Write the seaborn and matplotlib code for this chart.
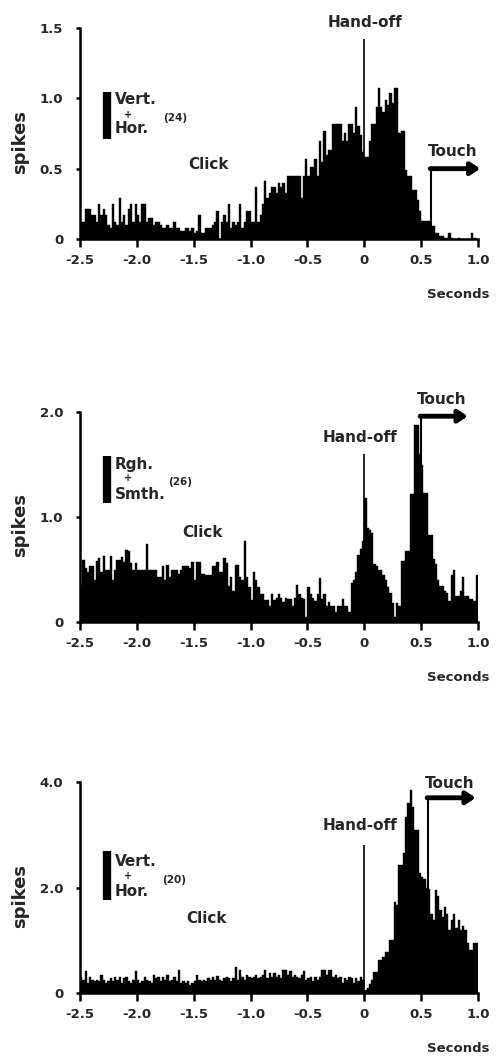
"""
Peri-event spike histograms (three cells), aligned on hand-off.
Rebuilt with seaborn histplot using the per-bin means as weights.
"""

import numpy as np
import pandas as pd
import matplotlib

matplotlib.use("Agg")
import matplotlib.pyplot as plt
import seaborn as sns

# --- DATA: mean spikes per 20 ms bin, -2.5 s .. 1.0 s ---
BIN_START = -2.5
BIN_WIDTH = 0.02
N_BINS = 175

SPIKES_VERT_HOR_24 = [
    0.12, 0.12, 0.21, 0.21, 0.21, 0.17, 0.17, 0.12, 0.25, 0.17,
    0.21, 0.17, 0.10, 0.08, 0.25, 0.12, 0.10, 0.29, 0.12, 0.17,
    0.10, 0.21, 0.25, 0.12, 0.25, 0.17, 0.12, 0.25, 0.25, 0.12,
    0.15, 0.15, 0.10, 0.12, 0.12, 0.10, 0.08, 0.08, 0.10, 0.08,
    0.08, 0.12, 0.08, 0.08, 0.06, 0.06, 0.08, 0.08, 0.06, 0.08,
    0.04, 0.06, 0.17, 0.04, 0.04, 0.08, 0.08, 0.08, 0.10, 0.12,
    0.20, 0.00, 0.12, 0.17, 0.12, 0.25, 0.08, 0.12, 0.10, 0.12,
    0.25, 0.08, 0.12, 0.20, 0.20, 0.12, 0.12, 0.37, 0.12, 0.17,
    0.25, 0.41, 0.29, 0.33, 0.37, 0.37, 0.33, 0.40, 0.37, 0.40,
    0.33, 0.45, 0.45, 0.45, 0.45, 0.45, 0.45, 0.29, 0.45, 0.57,
    0.45, 0.51, 0.51, 0.57, 0.45, 0.70, 0.55, 0.77, 0.60, 0.63,
    0.63, 0.82, 0.82, 0.82, 0.82, 0.70, 0.75, 0.70, 0.82, 0.82,
    0.75, 0.94, 0.80, 0.74, 0.62, 0.58, 0.58, 0.70, 0.82, 0.82,
    0.94, 1.07, 0.94, 0.90, 0.99, 0.95, 1.04, 0.97, 1.07, 1.07,
    0.75, 0.77, 0.77, 0.49, 0.45, 0.45, 0.35, 0.35, 0.28, 0.20,
    0.13, 0.13, 0.13, 0.13, 0.09, 0.09, 0.04, 0.04, 0.02, 0.02,
    0.01, 0.01, 0.04, 0.01, 0.00, 0.00, 0.01, 0.00, 0.00, 0.00,
    0.00, 0.00, 0.04, 0.01, 0.00,
]

SPIKES_RGH_SMTH_26 = [
    0.35, 0.59, 0.51, 0.48, 0.53, 0.53, 0.40, 0.58, 0.61, 0.48,
    0.63, 0.50, 0.50, 0.63, 0.40, 0.50, 0.59, 0.59, 0.62, 0.57,
    0.69, 0.68, 0.56, 0.50, 0.56, 0.50, 0.50, 0.50, 0.50, 0.74,
    0.50, 0.50, 0.50, 0.50, 0.43, 0.43, 0.53, 0.40, 0.54, 0.43,
    0.50, 0.50, 0.50, 0.46, 0.50, 0.53, 0.53, 0.53, 0.51, 0.57,
    0.40, 0.57, 0.57, 0.46, 0.46, 0.45, 0.45, 0.45, 0.53, 0.53,
    0.57, 0.48, 0.48, 0.61, 0.56, 0.34, 0.43, 0.30, 0.54, 0.54,
    0.43, 0.40, 0.77, 0.43, 0.33, 0.21, 0.48, 0.40, 0.33, 0.27,
    0.27, 0.21, 0.21, 0.15, 0.27, 0.21, 0.23, 0.27, 0.23, 0.19,
    0.23, 0.22, 0.22, 0.15, 0.23, 0.35, 0.27, 0.23, 0.22, 0.05,
    0.33, 0.27, 0.23, 0.20, 0.27, 0.42, 0.22, 0.27, 0.15, 0.19,
    0.15, 0.15, 0.10, 0.15, 0.15, 0.22, 0.15, 0.15, 0.10, 0.37,
    0.40, 0.48, 0.64, 0.70, 0.77, 1.18, 0.90, 0.88, 0.85, 0.55,
    0.53, 0.50, 0.50, 0.45, 0.40, 0.33, 0.28, 0.18, 0.05, 0.18,
    0.15, 0.58, 0.58, 0.68, 0.68, 1.22, 1.22, 1.88, 1.88, 1.60,
    1.50, 1.23, 1.23, 0.83, 0.83, 0.60, 0.55, 0.40, 0.34, 0.34,
    0.30, 0.28, 0.20, 0.45, 0.50, 0.25, 0.25, 0.30, 0.43, 0.25,
    0.25, 0.22, 0.22, 0.20, 0.45,
]

SPIKES_VERT_HOR_20 = [
    0.31, 0.25, 0.41, 0.19, 0.31, 0.25, 0.22, 0.25, 0.22, 0.35,
    0.25, 0.19, 0.22, 0.28, 0.22, 0.31, 0.25, 0.31, 0.19, 0.28,
    0.31, 0.22, 0.19, 0.25, 0.41, 0.25, 0.19, 0.22, 0.31, 0.25,
    0.22, 0.19, 0.35, 0.28, 0.31, 0.22, 0.31, 0.25, 0.35, 0.22,
    0.25, 0.31, 0.22, 0.44, 0.19, 0.22, 0.19, 0.22, 0.16, 0.19,
    0.22, 0.35, 0.25, 0.22, 0.25, 0.22, 0.28, 0.25, 0.31, 0.25,
    0.33, 0.25, 0.22, 0.28, 0.31, 0.28, 0.22, 0.28, 0.49, 0.25,
    0.44, 0.31, 0.25, 0.35, 0.31, 0.28, 0.31, 0.35, 0.28, 0.31,
    0.35, 0.43, 0.28, 0.38, 0.31, 0.38, 0.31, 0.35, 0.28, 0.43,
    0.43, 0.35, 0.41, 0.31, 0.35, 0.31, 0.28, 0.35, 0.41, 0.25,
    0.28, 0.31, 0.22, 0.31, 0.25, 0.31, 0.43, 0.43, 0.35, 0.43,
    0.43, 0.31, 0.35, 0.28, 0.31, 0.19, 0.28, 0.25, 0.31, 0.28,
    0.19, 0.28, 0.22, 0.31, 0.25, 0.06, 0.10, 0.18, 0.25, 0.40,
    0.40, 0.63, 0.63, 0.69, 0.78, 0.78, 1.00, 1.00, 1.73, 1.67,
    2.43, 2.43, 2.65, 3.34, 3.60, 3.84, 3.53, 3.09, 3.09, 2.27,
    2.20, 2.17, 2.00, 1.98, 1.50, 1.39, 1.95, 1.83, 1.57, 1.45,
    1.64, 1.50, 1.20, 1.39, 1.50, 1.23, 1.38, 1.20, 1.27, 1.20,
    0.94, 0.81, 0.82, 0.94, 0.94,
]

PANEL_DATA = [SPIKES_VERT_HOR_24, SPIKES_RGH_SMTH_26, SPIKES_VERT_HOR_20]
COND_TOP = ["Vert.", "Rgh.", "Vert."]
COND_BOTTOM = ["Hor.", "Smth.", "Hor."]
N_CELLS = ["(24)", "(26)", "(20)"]

X_TICKS = [-2.5, -2.0, -1.5, -1.0, -0.5, 0, 0.5, 1.0]
X_TICK_LABELS = ["-2.5", "-2.0", "-1.5", "-1.0", "-0.5", "0", "0.5", "1.0"]
Y_MAX = [1.5, 2.0, 4.0]
Y_TICKS = [[0, 0.5, 1.0, 1.5], [0, 1.0, 2.0], [0, 2.0, 4.0]]
Y_TICK_LABELS = [["0", "0.5", "1.0", "1.5"], ["0", "1.0", "2.0"], ["0", "2.0", "4.0"]]

# event markers (seconds / spikes)
HANDOFF_TOP = [1.42, 1.60, 2.80]
TOUCH_T = [0.585, 0.496, 0.558]
TOUCH_Y = [0.50, 1.96, 3.70]
TOUCH_END = [1.02, 0.91, 0.98]

# --- LAYOUT (figure fractions / data positions of labels) ---
AX_RECTS = [
    [0.160, 0.7739, 0.796, 0.1996],
    [0.160, 0.4115, 0.796, 0.1987],
    [0.160, 0.0605, 0.796, 0.1997],
]
HANDOFF_TXT = [(0.01, 1.54), (-0.04, 1.76), (-0.04, 3.17)]
CLICK_TXT = [(-1.37, 0.53), (-1.42, 0.85), (-1.39, 1.42)]
TOUCH_TXT = [(0.78, 0.62), (0.68, 2.12), (0.75, 3.98)]
# legend bar (axes fraction): x, y bottom, y top
LEG_BAR = [(0.068, 0.474, 0.697), (0.068, 0.567, 0.790), (0.068, 0.441, 0.673)]
LEG_TOP_Y = [0.659, 0.748, 0.621]
LEG_PLUS_Y = [0.588, 0.686, 0.555]
LEG_BOT_Y = [0.526, 0.605, 0.479]
LEG_N_POS = [(0.208, 0.573), (0.222, 0.667), (0.206, 0.536)]

sns.set_theme(style="ticks")
plt.rcParams["font.family"] = ["DejaVu Sans"]
plt.rcParams["font.weight"] = "bold"

LABEL_FS = 11
TICK_FS = 9.5


def draw_panel(ax, i):
    edges = BIN_START + BIN_WIDTH * np.arange(N_BINS + 1)
    df = pd.DataFrame({"t": edges[:-1] + BIN_WIDTH / 2, "spikes": PANEL_DATA[i]})

    # int bins + binrange (array bins trips a seaborn check when weights are used)
    sns.histplot(
        data=df,
        x="t",
        weights="spikes",
        bins=N_BINS,
        binrange=(edges[0], edges[-1]),
        ax=ax,
        color="black",
        alpha=1,
        edgecolor="black",
        linewidth=0.3,
    )

    ax.set_xlim(-2.5, 1.0)
    ax.set_ylim(0, Y_MAX[i])
    sns.despine(ax=ax)
    for side in ["left", "bottom"]:
        ax.spines[side].set_linewidth(1.8)
        ax.spines[side].set_color("black")

    ax.set_xticks(X_TICKS)
    ax.set_xticklabels(X_TICK_LABELS, fontsize=TICK_FS, fontweight="bold")
    ax.set_yticks(Y_TICKS[i])
    ax.set_yticklabels(Y_TICK_LABELS[i], fontsize=TICK_FS, fontweight="bold")
    ax.tick_params(axis="x", length=6, width=1.8, pad=5, color="black")
    ax.tick_params(axis="y", length=3, width=1.8, pad=9, color="black")

    ax.set_ylabel("spikes", fontsize=13, fontweight="bold", va="center")
    ax.yaxis.set_label_coords(-0.15, 0.46)
    ax.set_xlabel("Seconds", fontsize=9.5, fontweight="bold", ha="right", va="center")
    ax.xaxis.set_label_coords(1.03, -0.265)

    # hand-off marker
    ax.vlines(0, 0, HANDOFF_TOP[i], color="black", lw=1.2, clip_on=False)
    ax.text(*HANDOFF_TXT[i], "Hand-off", ha="center", va="center",
            fontsize=LABEL_FS, fontweight="bold", clip_on=False)

    # touch marker + arrow
    ax.vlines(TOUCH_T[i], 0, TOUCH_Y[i], color="black", lw=1.5, clip_on=False)
    ax.annotate(
        "",
        xy=(TOUCH_END[i], TOUCH_Y[i]),
        xytext=(TOUCH_T[i] - 0.005, TOUCH_Y[i]),
        arrowprops=dict(arrowstyle="-|>,head_length=0.45,head_width=0.3",
                        lw=3.5, color="black", mutation_scale=12,
                        shrinkA=0, shrinkB=0),
        annotation_clip=False,
    )
    ax.text(*TOUCH_TXT[i], "Touch", ha="center", va="center",
            fontsize=LABEL_FS, fontweight="bold", clip_on=False)

    ax.text(*CLICK_TXT[i], "Click", ha="center", va="center",
            fontsize=LABEL_FS, fontweight="bold")

    # condition legend
    bx, b0, b1 = LEG_BAR[i]
    ax.plot([bx, bx], [b0, b1], transform=ax.transAxes, color="black",
            lw=6, solid_capstyle="butt")
    ax.text(0.088, LEG_TOP_Y[i], COND_TOP[i], transform=ax.transAxes,
            ha="left", va="center", fontsize=LABEL_FS, fontweight="bold")
    ax.text(0.12, LEG_PLUS_Y[i], "+", transform=ax.transAxes,
            ha="center", va="center", fontsize=7, fontweight="bold")
    ax.text(0.088, LEG_BOT_Y[i], COND_BOTTOM[i], transform=ax.transAxes,
            ha="left", va="center", fontsize=LABEL_FS, fontweight="bold")
    ax.text(*LEG_N_POS[i], N_CELLS[i], transform=ax.transAxes,
            ha="left", va="center", fontsize=7.5, fontweight="bold")


def make_figure():
    fig = plt.figure(figsize=(5.0, 10.57), dpi=100)
    fig.patch.set_facecolor("white")
    for i, rect in enumerate(AX_RECTS):
        ax = fig.add_axes(rect)
        ax.set_facecolor("white")
        draw_panel(ax, i)
    fig.savefig("out.png", dpi=100, facecolor="white")
    plt.close(fig)


if __name__ == "__main__":
    make_figure()
